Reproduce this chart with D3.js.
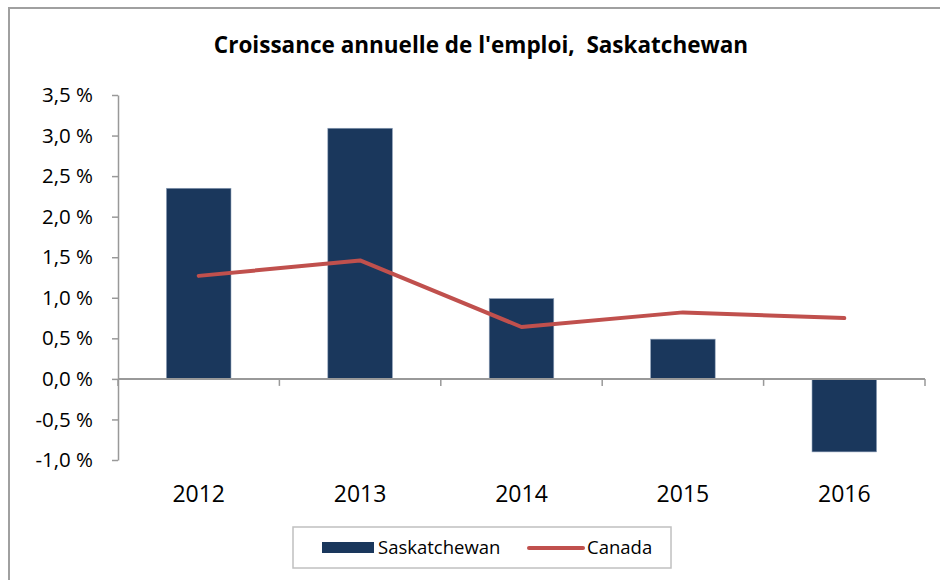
<!DOCTYPE html>
<html>
<head>
<meta charset="utf-8">
<script src="https://cdn.jsdelivr.net/npm/d3@7"></script>
<style>
  body { margin: 0; background: #fff; }
  svg { display: block; font-family: "Open Sans", "Noto Sans", sans-serif; }
</style>
</head>
<body>
<div id="chart"></div>
<script>
// annual employment growth, %
const years = ["2012", "2013", "2014", "2015", "2016"];
const saskatchewan = [2.35, 3.09, 0.99, 0.49, -0.90];
const canada = [1.27, 1.46, 0.64, 0.82, 0.75];
const yTicks = [-1.0, -0.5, 0, 0.5, 1.0, 1.5, 2.0, 2.5, 3.0, 3.5];

let width = 940,
  height = 580,
  margin = ({ top: 95, right: 15, bottom: 120, left: 118 });

const data = years.map((d, i) => ({ year: d, sk: saskatchewan[i], ca: canada[i] }));

let x = d3.scaleBand()
  .domain(years)
  .range([margin.left, width - margin.right])
  .paddingInner(0.6)
  .paddingOuter(0.3);

let y = d3.scaleLinear()
  .domain([-1.0, 3.5])
  .range([height - margin.bottom, margin.top]);

let fmt = d => d.toFixed(1).replace(".", ",") + " %";

const svg = d3.select("#chart")
  .append("svg")
  .attr("width", width)
  .attr("height", height)
  .attr("viewBox", [0, 0, width, height]);

// outer frame (runs off the right and bottom edge)
svg.append("rect")
  .attr("x", 9)
  .attr("y", 8)
  .attr("width", width + 20)
  .attr("height", height + 20)
  .attr("fill", "none")
  .attr("stroke", "#a0a0a0")
  .attr("stroke-width", 2);

svg.append("text")
  .attr("x", 481)
  .attr("y", 53)
  .attr("text-anchor", "middle")
  .attr("font-weight", "bold")
  .attr("font-size", 22.5)
  .attr("fill", "#000")
  .attr("xml:space", "preserve")
  .text("Croissance annuelle de l'emploi,  Saskatchewan");

// y axis
svg.append("g")
  .attr("transform", `translate(${margin.left},0)`)
  .call(d3.axisLeft(y).tickValues(yTicks).tickFormat(fmt).tickSize(6).tickPadding(19).tickSizeOuter(0))
  .call(g => g.selectAll("line, path").attr("stroke", "#999").attr("stroke-width", 1.5))
  .call(g => g.selectAll("text").attr("font-size", 20.5).attr("fill", "#000")
    .style("font-family", "'Open Sans', sans-serif"));

// bars
svg.append("g")
  .selectAll("rect")
  .data(data)
  .join("rect")
  .attr("x", d => x(d.year))
  .attr("width", x.bandwidth())
  .attr("y", d => y(Math.max(0, d.sk)))
  .attr("height", d => Math.abs(y(d.sk) - y(0)))
  .attr("fill", "#1a375c")
  .attr("stroke", "#8fa0b8")
  .attr("stroke-width", 0.6);

// x axis on zero line, ticks at category boundaries
let step = x.step();
let bounds = d3.range(years.length + 1).map(i => x(years[0]) - x.paddingOuter() * step + i * step);
let xAxis = svg.append("g");
xAxis.append("line")
  .attr("x1", margin.left)
  .attr("x2", bounds[bounds.length - 1])
  .attr("y1", y(0))
  .attr("y2", y(0))
  .attr("stroke", "#999")
  .attr("stroke-width", 2);
xAxis.selectAll(".tk")
  .data(bounds)
  .join("line")
  .attr("class", "tk")
  .attr("x1", d => d)
  .attr("x2", d => d)
  .attr("y1", y(0))
  .attr("y2", y(0) + 7)
  .attr("stroke", "#999")
  .attr("stroke-width", 1.5);

svg.append("g")
  .selectAll("text")
  .data(years)
  .join("text")
  .attr("x", d => x(d) + x.bandwidth() / 2)
  .attr("y", 502)
  .attr("text-anchor", "middle")
  .attr("font-size", 23)
  .attr("fill", "#000")
  .text(d => d);

// canada line
let line = d3.line()
  .x(d => x(d.year) + x.bandwidth() / 2)
  .y(d => y(d.ca));

svg.append("path")
  .datum(data)
  .attr("d", line)
  .attr("fill", "none")
  .attr("stroke", "#c0504d")
  .attr("stroke-width", 4)
  .attr("stroke-linecap", "round")
  .attr("stroke-linejoin", "round");

// legend
const legend = svg.append("g");
legend.append("rect")
  .attr("x", 293)
  .attr("y", 527)
  .attr("width", 378)
  .attr("height", 41)
  .attr("fill", "#fff")
  .attr("stroke", "#c0c0c0")
  .attr("stroke-width", 1.5);
legend.append("rect")
  .attr("x", 322)
  .attr("y", 542)
  .attr("width", 52)
  .attr("height", 11)
  .attr("fill", "#1a375c");
legend.append("text")
  .attr("x", 378)
  .attr("y", 554)
  .attr("font-size", 18.5)
  .attr("fill", "#000")
  .text("Saskatchewan");
legend.append("line")
  .attr("x1", 529)
  .attr("x2", 583)
  .attr("y1", 548)
  .attr("y2", 548)
  .attr("stroke", "#c0504d")
  .attr("stroke-width", 4)
  .attr("stroke-linecap", "round");
legend.append("text")
  .attr("x", 587)
  .attr("y", 554)
  .attr("font-size", 18.5)
  .attr("fill", "#000")
  .text("Canada");
</script>
</body>
</html>
